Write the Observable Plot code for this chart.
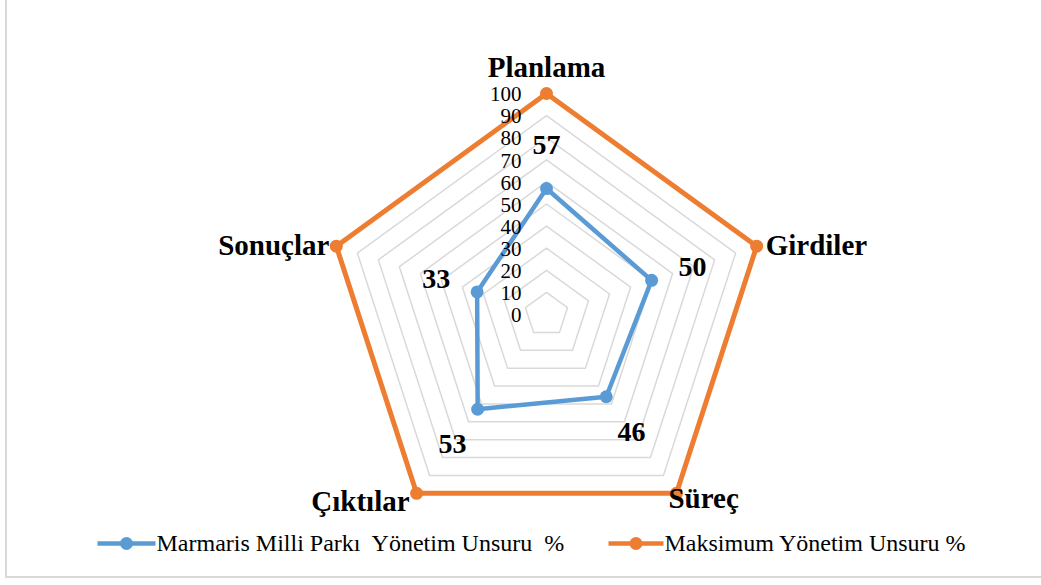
<!DOCTYPE html>
<html>
<head>
<meta charset="utf-8">
<script src="https://cdn.jsdelivr.net/npm/d3@7"></script>
<script src="https://cdn.jsdelivr.net/npm/@observablehq/plot@0.6"></script>
<style>
  html, body { margin: 0; padding: 0; background: #fff; }
  #frame { position: absolute; left: 0; top: 0; width: 1041px; height: 585px; }
  #border { position: absolute; left: 5px; top: 0; width: 1036px; height: 578px;
            border-left: 2px solid #d9d9d9; border-bottom: 2px solid #d9d9d9; box-sizing: border-box; pointer-events: none; }
</style>
</head>
<body>
<div id="frame"></div>
<div id="border"></div>
<script>
// ---- data ----
const categories = ["Planlama", "Girdiler", "Süreç", "Çıktılar", "Sonuçlar"];
const marmaris = [57, 50, 46, 53, 33];
const maksimum = [100, 100, 100, 100, 100];
const seriesNames = ["Marmaris Milli Parkı  Yönetim Unsuru  %", "Maksimum Yönetim Unsuru %"];
const tickValues = [0, 10, 20, 30, 40, 50, 60, 70, 80, 90, 100];

// ---- layout ----
const W = 1041, H = 585;
const cx = 546, cy = 314, R = 221;   // centre and radius (px) of the 100 ring
const colors = ["#5B9BD5", "#ED7D31"];
const font = "'Liberation Serif', 'Times New Roman', serif";

const n = categories.length;
const ang = i => (i / n) * 2 * Math.PI;
const px = (v, i, extra = 0) => cx + (v / 100 * R + extra) * Math.sin(ang(i));
const py = (v, i, extra = 0) => cy - (v / 100 * R + extra) * Math.cos(ang(i));

// grid rings
const grid = tickValues.filter(t => t > 0).flatMap(t =>
  categories.map((c, i) => ({ t, x: px(t, i), y: py(t, i) })));

const series = [marmaris, maksimum];
const seriesPts = series.map((vals, s) =>
  vals.map((v, i) => ({ s, cat: categories[i], v, x: px(v, i), y: py(v, i) })));

// category labels
const catAnchor = ["middle", "start", "start", "end", "end"];
const catLabels = categories.map((c, i) => {
  let x = px(100, i), y = py(100, i);
  if (i === 0) { y -= 26; }
  else if (i === 1) { x += 9; }
  else if (i === 2) { x -= 8; y += 5; }
  else if (i === 3) { x -= 7; y += 8; }
  else if (i === 4) { x -= 7; }
  return { c, x, y, anchor: catAnchor[i] };
});

// data labels (blue series)
const dataLabels = marmaris.map((v, i) => ({ v, x: px(v, i, 43), y: py(v, i, 43) }));

// tick labels
const tickLabels = tickValues.map(t => ({ t, x: cx - 25, y: cy - t / 100 * R + 1 }));

// legend
const legendY = 543;
const legend = seriesNames.map((name, s) => ({
  name, s,
  x1: s === 0 ? 97 : 608,
  x2: s === 0 ? 155 : 663
}));

const marks = [
  Plot.line(grid, { x: "x", y: "y", z: "t", curve: "linear-closed", stroke: "#d9d9d9", strokeWidth: 1.5 }),
];
[1, 0].forEach(s => {
  marks.push(Plot.line(seriesPts[s], { x: "x", y: "y", curve: "linear-closed", stroke: colors[s], strokeWidth: s === 1 ? 5 : 4.5, strokeLinejoin: "round" }));
  marks.push(Plot.dot(seriesPts[s], { x: "x", y: "y", r: 6.5, fill: colors[s], stroke: "none" }));
});
marks.push(
  Plot.text(tickLabels, { x: "x", y: "y", text: d => String(d.t), textAnchor: "end", lineAnchor: "middle", fontSize: 21, fill: "#000", fontFamily: font }),
  Plot.text(catLabels.filter(d => d.anchor === "middle"), { x: "x", y: "y", text: "c", textAnchor: "middle", lineAnchor: "middle", fontSize: 29, fontWeight: "bold", fill: "#000", fontFamily: font }),
  Plot.text(catLabels.filter(d => d.anchor === "start"), { x: "x", y: "y", text: "c", textAnchor: "start", lineAnchor: "middle", fontSize: 29, fontWeight: "bold", fill: "#000", fontFamily: font }),
  Plot.text(catLabels.filter(d => d.anchor === "end"), { x: "x", y: "y", text: "c", textAnchor: "end", lineAnchor: "middle", fontSize: 29, fontWeight: "bold", fill: "#000", fontFamily: font }),
  Plot.text(dataLabels, { x: "x", y: "y", text: d => String(d.v), textAnchor: "middle", lineAnchor: "middle", fontSize: 28, fontWeight: "bold", fill: "#000", fontFamily: font }),
  Plot.link(legend, { x1: "x1", x2: "x2", y1: () => legendY, y2: () => legendY, stroke: d => colors[d.s], strokeWidth: 4.5 }),
  Plot.dot(legend, { x: d => (d.x1 + d.x2) / 2, y: () => legendY, r: 6.5, fill: d => colors[d.s], stroke: "none" }),
  Plot.text(legend, { x: d => d.x2 + 1, y: () => legendY, text: "name", textAnchor: "start", lineAnchor: "middle", fontSize: 24, fill: "#000", fontFamily: font })
);

const chart = Plot.plot({
  width: W, height: H,
  margin: 0,
  x: { type: "linear", domain: [0, W], range: [0, W], axis: null },
  y: { type: "linear", domain: [0, H], range: [0, H], axis: null },
  style: { background: "transparent", fontFamily: font, overflow: "visible" },
  marks
});
chart.querySelectorAll("text").forEach(t => { t.setAttribute("xml:space", "preserve"); t.style.whiteSpace = "pre"; });
document.getElementById("frame").appendChild(chart);
</script>
</body>
</html>
